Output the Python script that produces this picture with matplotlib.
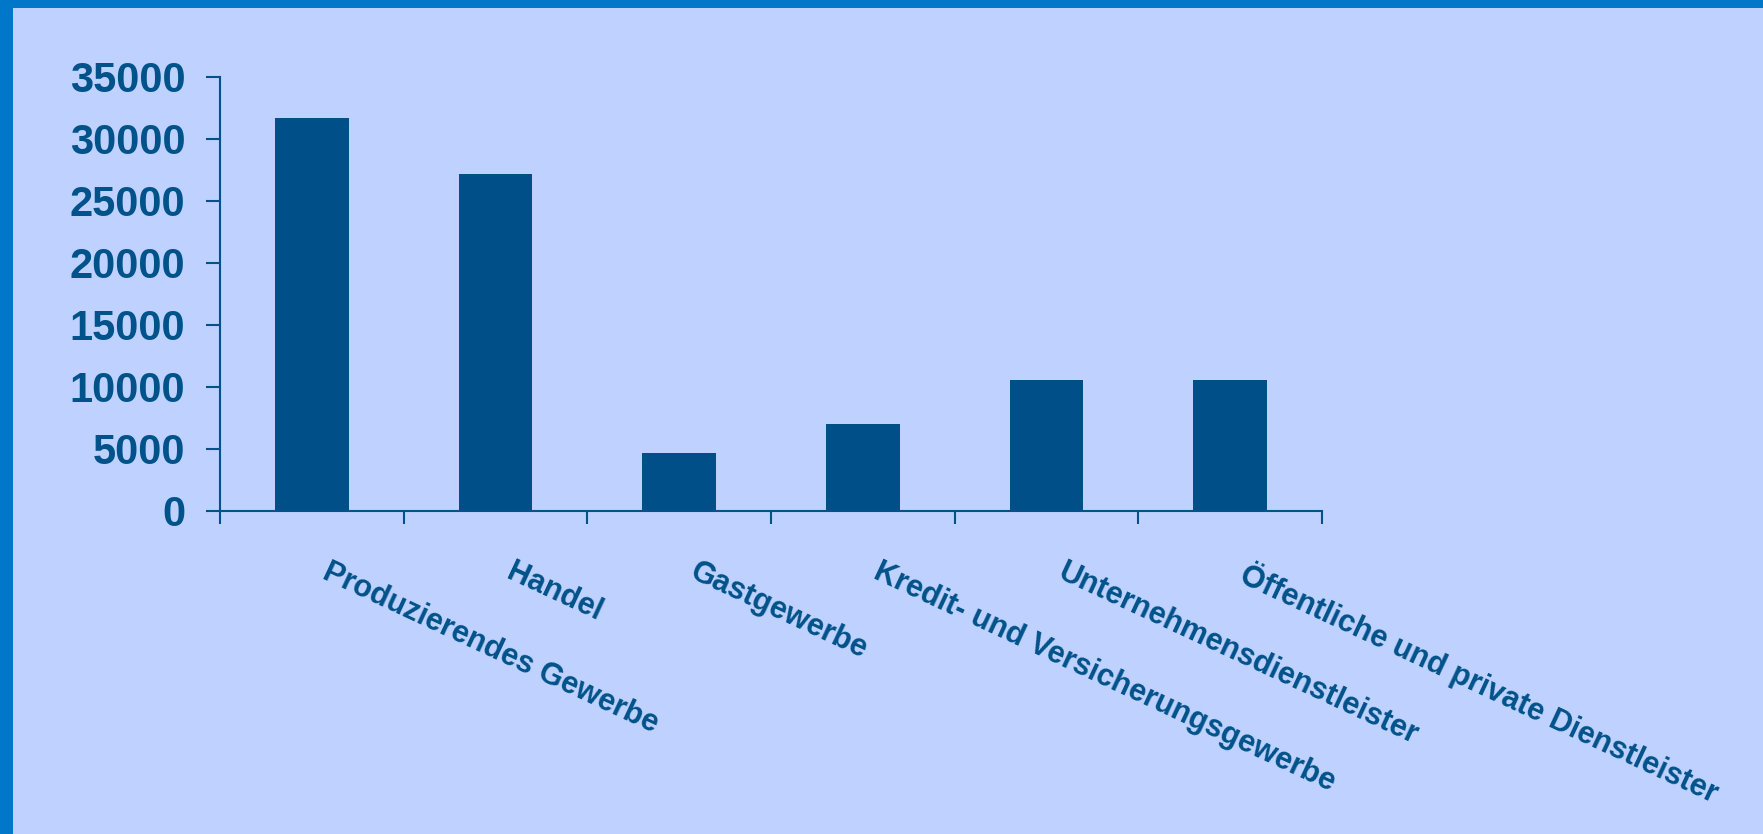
import matplotlib
matplotlib.use("Agg")
import matplotlib.pyplot as plt
from matplotlib.patches import Rectangle
from matplotlib import font_manager
import matplotlib.transforms as mtransforms

categories = [
    "Produzierendes Gewerbe",
    "Handel",
    "Gastgewerbe",
    "Kredit- und Versicherungsgewerbe",
    "Unternehmensdienstleister",
    "Öffentliche und private Dienstleister",
]
values = [31700, 27200, 4700, 7000, 10600, 10600]
y_ticks = [0, 5000, 10000, 15000, 20000, 25000, 30000, 35000]

BG = "#BFD1FF"
FRAME = "#0077C8"
BAR = "#004F88"
TEXT = "#00538A"

names = {f.name for f in font_manager.fontManager.ttflist}
narrow = "Liberation Sans Narrow" if "Liberation Sans Narrow" in names else "Liberation Sans"

W, H = 1763, 834
fig = plt.figure(figsize=(W / 100, H / 100), dpi=100, facecolor=BG)

# frame bands along top and left edges
fig.patches.append(Rectangle((0, 1 - 8 / H), 1, 8 / H, transform=fig.transFigure,
                             facecolor=FRAME, edgecolor="none", zorder=0))
fig.patches.append(Rectangle((0, 0), 13 / W, 1, transform=fig.transFigure,
                             facecolor=FRAME, edgecolor="none", zorder=0))

ax = fig.add_axes([220 / W, 1 - 511 / H, (1322 - 220) / W, (511 - 77) / H])
ax.set_facecolor(BG)

x = list(range(len(categories)))
ax.bar(x, values, width=0.40, color=BAR, zorder=2)

ax.set_xlim(-0.5, len(categories) - 0.5)
ax.set_ylim(0, 35000)
ax.set_yticks(y_ticks)
ax.set_yticklabels([str(v) for v in y_ticks], fontsize=30, fontweight="bold",
                   color=TEXT, family=narrow)

for side in ("top", "right"):
    ax.spines[side].set_visible(False)
for side in ("left", "bottom"):
    ax.spines[side].set_color(TEXT)
    ax.spines[side].set_linewidth(1.5)

ax.tick_params(axis="y", length=10, width=1.5, color=TEXT, pad=15)

# category boundaries carry the x ticks
ax.set_xticks([i - 0.5 for i in range(len(categories) + 1)])
ax.set_xticklabels([])
ax.tick_params(axis="x", length=9, width=1.5, color=TEXT, direction="out")

offset = mtransforms.ScaledTranslation(19 / 100, -46 / 100, fig.dpi_scale_trans)
label_tf = mtransforms.blended_transform_factory(ax.transData, ax.transAxes) + offset
for i, name in enumerate(categories):
    ax.text(i, 0, name, transform=label_tf,
            rotation=-25, rotation_mode="anchor", ha="left", va="top",
            fontsize=22, fontweight="bold", color=TEXT, family=narrow)

fig.savefig("out.png", dpi=100, facecolor=BG)
